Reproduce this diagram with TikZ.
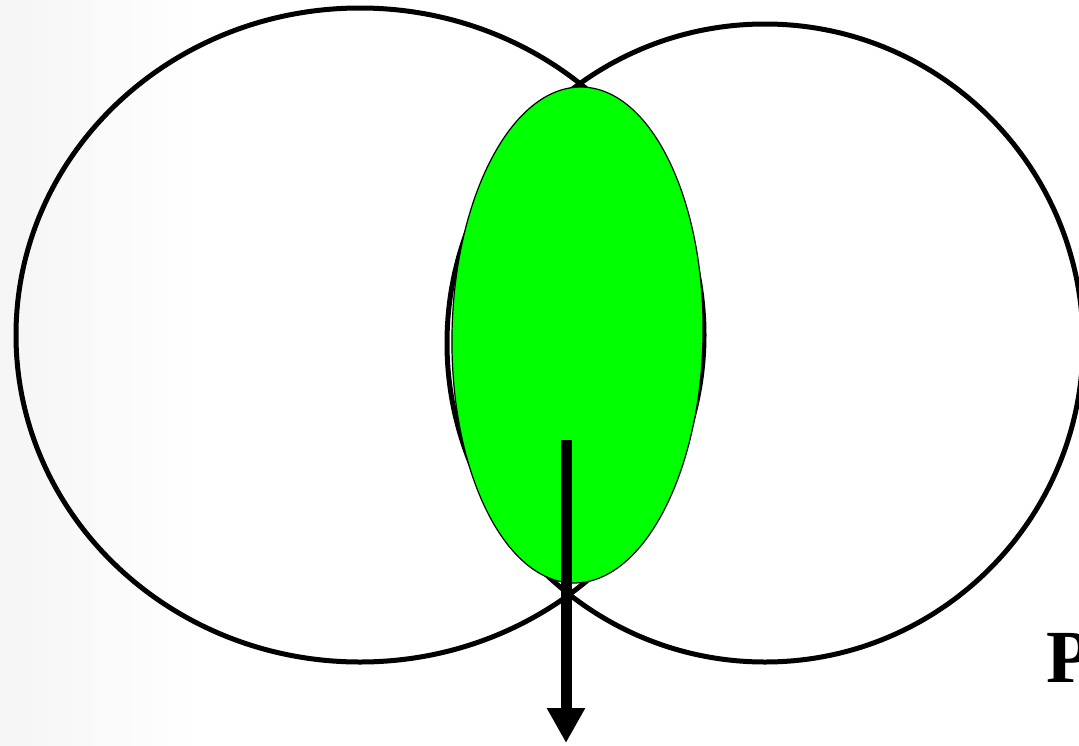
\documentclass[tikz,border=0pt]{standalone}
\usepackage{fontspec}
\setmainfont{Liberation Serif}
\usetikzlibrary{arrows.meta}
\definecolor{lensgreen}{HTML}{00FF00}
\tikzset{
  ring/.style={draw=black, line width=5pt},
  lens/.style={draw=black, line width=1.2pt, fill=lensgreen},
  forcearrow/.style={draw=black, line width=11pt, -{Triangle[length=35pt,width=36pt]}},
  bigletter/.style={font=\fontsize{75}{80}\bfseries\selectfont, inner sep=0pt, anchor=base west}
}
\begin{document}
\begin{tikzpicture}[x=1pt,y=-1pt]
  \useasboundingbox (0,0) rectangle (1079,745);
  \fill[white] (0,0) rectangle (1079,745);
  \shade[left color=black!4, right color=white, draw=none] (0,0) rectangle (200,745);
  % two overlapping circles
  \draw[ring] (360,335) ellipse [x radius=344, y radius=327];
  \draw[ring] (765,343) ellipse [x radius=318, y radius=319];
  % green lens
  \draw[lens, rotate around={-1:(577.5,335)}] (577.5,335) ellipse [x radius=125.5, y radius=248];
  % arrow
  \coordinate (astart) at (566,440);
  \coordinate (aend) at (566,743);
  \draw[forcearrow] (astart) -- (aend);
  % label
  \node[bigletter] (plabel) at (1046,682) {P};
\end{tikzpicture}
\end{document}
